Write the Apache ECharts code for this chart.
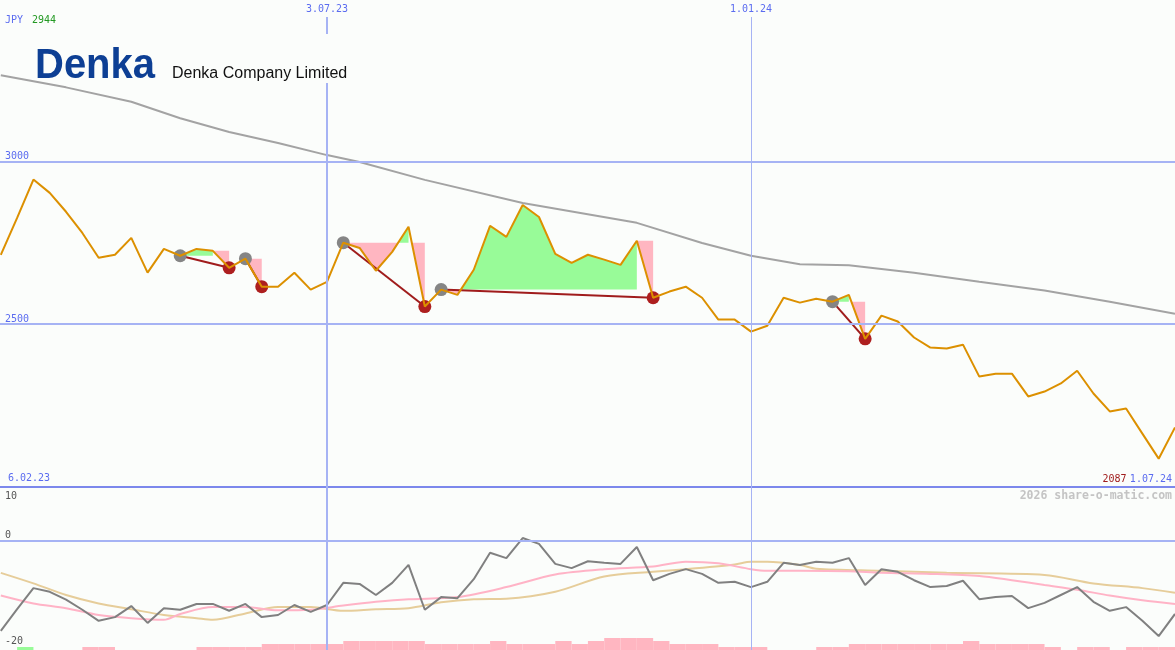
<!DOCTYPE html>
<html>
<head>
<meta charset="utf-8">
<script src="https://cdn.jsdelivr.net/npm/echarts@6/dist/echarts.min.js"></script>
<style>
  html, body { margin: 0; padding: 0; background: #fbfdfb; }
  #chart { width: 1175px; height: 650px; }
</style>
</head>
<body>
<div id="chart"></div>
<script>
// Denka Company Limited, weekly closes in JPY. Week 0 = 6.02.23, week 73 = 1.07.24.
const currency = 'JPY';
const companyShort = 'Denka';
const companyName = 'Denka Company Limited';
const rangeStart = '6.02.23';
const rangeEnd = '1.07.24';
const credit = '2026 share-o-matic.com';

// closes for weeks 1..73
const closePrice = [
  2713, 2826, 2944, 2903, 2845, 2780, 2704, 2713, 2765, 2658,
  2731, 2710, 2731, 2725, 2673, 2701, 2615, 2615, 2658, 2606,
  2630, 2750, 2734, 2664, 2722, 2799, 2554, 2606, 2590, 2667,
  2802, 2768, 2866, 2829, 2716, 2688, 2713, 2698, 2682, 2756,
  2581, 2600, 2615, 2581, 2514, 2514, 2477, 2495, 2581, 2566,
  2578, 2569, 2590, 2455, 2526, 2508, 2459, 2428, 2425, 2437,
  2339, 2348, 2348, 2278, 2293, 2318, 2357, 2287, 2232, 2241,
  2164, 2087, 2183
];

// long moving average [week, JPY]
const trendAvg = [
  [1, 3264], [5, 3227], [9, 3183], [12, 3132], [15, 3090], [18, 3056],
  [21, 3019], [23, 2998], [27, 2943], [33, 2872], [40, 2811], [44, 2749],
  [47, 2710], [50, 2684], [53, 2681], [57, 2658], [61, 2630], [65, 2603],
  [69, 2569], [73, 2532]
];

// sell signals: [start week, end week, drop band top in JPY]
const signals = [
  [12, 15, 2725],
  [16, 17, 2701],
  [22, 27, 2750],
  [28, 41, 2756],
  [52, 54, 2569]
];

// oscillator for weeks 1..73
const momentum = [
  -17.1, -13.0, -9.0, -9.7, -11.2, -13.1, -15.2, -14.5, -12.4, -15.6,
  -12.8, -13.1, -12.0, -12.0, -13.3, -12.0, -14.5, -14.1, -12.2, -13.5,
  -12.2, -8.0, -8.2, -10.3, -8.0, -4.6, -13.1, -10.7, -10.9, -7.3,
  -2.3, -3.3, 0.5, -0.6, -4.4, -5.2, -3.9, -4.2, -4.4, -1.2,
  -7.5, -6.3, -5.4, -6.3, -8.0, -7.8, -8.8, -7.8, -4.2, -4.6,
  -4.0, -4.2, -3.3, -8.4, -5.4, -5.9, -7.5, -8.8, -8.6, -7.6,
  -11.1, -10.7, -10.5, -12.8, -11.8, -10.3, -8.8, -11.6, -13.3, -12.6,
  -15.2, -18.1, -13.9
];

// oscillator averages [week, value]
const momentumFast = [
  [1, -10.4], [3, -11.9], [5, -12.8], [7, -14.1], [9, -14.7], [11, -15.0],
  [12, -13.9], [14, -12.6], [16, -12.6], [18, -13.2], [20, -13.1], [22, -12.3],
  [24, -11.6], [26, -11.1], [29, -10.7], [32, -8.8], [35, -6.4], [38, -5.4],
  [41, -4.9], [43, -4.0], [45, -4.3], [47, -5.4], [48, -5.7], [50, -5.7],
  [53, -5.8], [55, -6.1], [58, -6.3], [61, -6.7], [63, -7.5], [65, -8.4],
  [67, -9.3], [69, -10.4], [71, -11.3], [73, -12.0]
];
const momentumSlow = [
  [1, -6.1], [3, -8.1], [5, -10.3], [7, -11.9], [9, -13.0], [11, -14.1],
  [13, -14.7], [14, -15.0], [16, -13.8], [18, -12.6], [20, -12.6], [22, -13.3],
  [24, -13.0], [26, -12.8], [28, -11.7], [30, -11.1], [32, -11.0], [35, -9.7],
  [38, -6.8], [41, -5.9], [43, -5.4], [46, -4.5], [47, -4.0], [48, -4.0],
  [50, -4.6], [51, -5.3], [55, -5.7], [59, -6.1], [65, -6.5], [68, -8.1],
  [71, -9.0], [73, -9.9]
];

// weekly pressure blocks for weeks 1..73 (negative = buying, positive = selling)
const pressure = [
  0, 0, -1, 0, 0, 0, 1, 1, 0, 0,
  0, 0, 0, 1, 1, 1, 1, 2, 2, 2,
  2, 2, 3, 3, 3, 3, 3, 2, 2, 2,
  2, 3, 2, 2, 2, 3, 2, 3, 4, 4,
  4, 3, 2, 2, 2, 1, 1, 1, 0, 0,
  0, 1, 1, 2, 2, 2, 2, 2, 2, 2,
  3, 2, 2, 2, 2, 1, 0, 1, 1, 0,
  1, 1, 1
];

// axis marks
const priceTicks = [2500, 3000];
const priceFloor = 2000;
const oscTicksLow = [0, -20];
const oscTicksHigh = [10];
const dateTicks = [[21, '3.07.23'], [47, '1.01.24']];

// ---- drawing ----
const BLUE = '#5b6cf0';
const GRID_BLUE = '#a6b3f4';
const MONO = 'DejaVu Sans Mono';
const priceAt = w => closePrice[w - 1];
const hiPrice = Math.max(...closePrice);
const loPrice = Math.min(...closePrice);
const weekMin = 0.95, weekMax = 73;

// path between the close line and a level, keeping the side chosen by pick
function bandPath(from, to, level, pick) {
  const pts = [[from, level]];
  for (let w = from; w <= to; w++) {
    const p = priceAt(w);
    if (w > from) {
      const q = priceAt(w - 1);
      if ((q - level) * (p - level) < 0) {
        pts.push([w - 1 + (q - level) / (q - p), level]);
      }
    }
    pts.push([w, pick(p, level)]);
  }
  pts.push([to, level]);
  return pts;
}

function renderSignalFill(params, api) {
  const [s, e, top] = signals[params.dataIndex];
  const level = priceAt(s);
  const px = pts => pts.map(p => api.coord(p));
  const up = bandPath(s, e - 1, level, Math.max);
  const down = bandPath(s, e - 1, level, Math.min);
  const q = priceAt(e - 1), p = priceAt(e);
  const t = q > top ? (q - top) / (q - p) : 0;
  const drop = [[e - 1 + t, top], [e, top], [e, p]];
  return {
    type: 'group',
    children: [
      { type: 'polygon', shape: { points: px(up) }, style: { fill: '#98fb98' } },
      { type: 'polygon', shape: { points: px(down) }, style: { fill: '#ffb6c1' } },
      { type: 'polygon', shape: { points: px(drop) }, style: { fill: '#ffb6c1' } }
    ]
  };
}

function renderSignalLink(params, api) {
  const [s, e] = signals[params.dataIndex];
  const a = api.coord([s, priceAt(s)]);
  const b = api.coord([e, priceAt(e)]);
  return {
    type: 'group',
    children: [
      { type: 'line', shape: { x1: a[0], y1: a[1], x2: b[0], y2: b[1] },
        style: { stroke: '#a01c1c', lineWidth: 2 } },
      { type: 'circle', shape: { cx: a[0], cy: a[1], r: 6.5 }, style: { fill: '#858585' } },
      { type: 'circle', shape: { cx: b[0], cy: b[1], r: 6.5 }, style: { fill: '#ad1f1f' } }
    ]
  };
}

function renderPressure(params, api) {
  const w = params.dataIndex + 1;
  const v = pressure[params.dataIndex];
  if (!v) return null;
  const a = api.coord([w - 1, 0]);
  const b = api.coord([w, Math.abs(v)]);
  return {
    type: 'rect',
    shape: { x: a[0], y: b[1], width: b[0] - a[0], height: a[1] - b[1] },
    style: { fill: v < 0 ? '#98fb98' : '#ffb6c1' }
  };
}

const hLine = (value, color, width) => ({
  yAxis: value, lineStyle: { color: color, width: width, type: 'solid' }
});
const vLines = dateTicks.map(([w], i) => ({
  xAxis: w, lineStyle: { color: GRID_BLUE, width: i === 0 ? 2 : 1, type: 'solid' }
}));
const markBase = { silent: true, symbol: 'none', label: { show: false }, animation: false };
const plain = v => String(v);

const chart = echarts.init(document.getElementById('chart'), null, { renderer: 'canvas' });

chart.setOption({
  backgroundColor: '#fbfdfb',
  animation: false,
  grid: [
    { left: 0, right: 0, top: 17, height: 470, containLabel: false, outerBoundsMode: 'none' },
    { left: 0, right: 0, top: 487, height: 163, containLabel: false, outerBoundsMode: 'none' }
  ],
  xAxis: [
    {
      gridIndex: 0, type: 'value', min: weekMin, max: weekMax, position: 'top',
      axisLine: { show: false }, axisTick: { show: false }, splitLine: { show: false },
      axisLabel: {
        customValues: dateTicks.map(d => d[0]),
        formatter: v => (dateTicks.find(d => d[0] === v) || [0, ''])[1],
        margin: 3, color: BLUE, fontSize: 10, fontFamily: MONO
      }
    },
    {
      gridIndex: 1, type: 'value', min: weekMin, max: weekMax, show: false
    }
  ],
  yAxis: [
    {
      gridIndex: 0, type: 'value', position: 'left', min: priceFloor, max: 3443,
      axisLine: { show: false }, axisTick: { show: false }, splitLine: { show: false },
      axisLabel: {
        inside: true, customValues: priceTicks, verticalAlign: 'bottom', formatter: plain,
        margin: 5, color: BLUE, fontSize: 10, fontFamily: MONO
      }
    },
    {
      gridIndex: 1, type: 'value', position: 'left', min: -20.74, max: 10.19,
      axisLine: { show: false }, axisTick: { show: false }, splitLine: { show: false },
      axisLabel: {
        inside: true, customValues: oscTicksLow, verticalAlign: 'bottom', formatter: plain,
        margin: 5, color: '#555555', fontSize: 10, fontFamily: MONO
      }
    },
    {
      gridIndex: 1, type: 'value', position: 'left', offset: 0, min: -20.74, max: 10.19,
      axisLine: { show: false }, axisTick: { show: false }, splitLine: { show: false },
      axisLabel: {
        inside: true, customValues: oscTicksHigh, verticalAlign: 'top', formatter: plain,
        margin: 5, padding: [3, 0, 0, 0], color: '#555555', fontSize: 10, fontFamily: MONO
      }
    },
    {
      gridIndex: 1, type: 'value', position: 'left', min: 0, max: 54.33, show: false
    }
  ],
  series: [
    {
      type: 'custom', name: 'signal areas', xAxisIndex: 0, yAxisIndex: 0, z: 1,
      renderItem: renderSignalFill, silent: true,
      data: signals.map(s => [s[0], priceAt(s[0])])
    },
    {
      type: 'line', name: 'trend', xAxisIndex: 0, yAxisIndex: 0, z: 2, clip: false,
      data: trendAvg, showSymbol: false, silent: true,
      lineStyle: { color: '#a3a3a3', width: 2 },
      markLine: Object.assign({}, markBase, {
        data: priceTicks.map(v => hLine(v, GRID_BLUE, 2))
          .concat([hLine(priceFloor, '#7c88ec', 2)])
          .concat(vLines)
      })
    },
    {
      type: 'custom', name: 'signal links', xAxisIndex: 0, yAxisIndex: 0, z: 3,
      renderItem: renderSignalLink, silent: true,
      data: signals.map(s => [s[0], priceAt(s[0])])
    },
    {
      type: 'line', name: 'close', xAxisIndex: 0, yAxisIndex: 0, z: 4,
      data: closePrice.map((v, i) => [i + 1, v]), showSymbol: false, silent: true,
      lineStyle: { color: '#dc9000', width: 2 }
    },
    {
      type: 'custom', name: 'pressure', xAxisIndex: 1, yAxisIndex: 3, z: 1,
      renderItem: renderPressure, silent: true,
      data: pressure.map((v, i) => [i + 1, Math.abs(v)])
    },
    {
      type: 'line', name: 'osc slow', xAxisIndex: 1, yAxisIndex: 1, z: 2,
      data: momentumSlow, showSymbol: false, silent: true, smooth: 0.3,
      lineStyle: { color: '#e6cd9a', width: 2 }
    },
    {
      type: 'line', name: 'osc fast', xAxisIndex: 1, yAxisIndex: 1, z: 2,
      data: momentumFast, showSymbol: false, silent: true, smooth: 0.3,
      lineStyle: { color: '#ffb3c6', width: 2 }
    },
    {
      type: 'line', name: 'osc', xAxisIndex: 1, yAxisIndex: 1, z: 3, clip: false,
      data: momentum.map((v, i) => [i + 1, v]), showSymbol: false, silent: true,
      lineStyle: { color: '#808080', width: 2 },
      markLine: Object.assign({}, markBase, {
        data: [hLine(0, GRID_BLUE, 2)].concat(vLines)
      })
    }
  ],
  graphic: [
    {
      type: 'text', left: 5, top: 15, z: 10,
      style: {
        text: '{c|' + currency + '}{h|' + hiPrice + '}',
        rich: {
          c: { fill: BLUE, font: '10px "DejaVu Sans Mono"' },
          h: { fill: '#229922', font: '10px "DejaVu Sans Mono"', padding: [0, 0, 0, 9] }
        }
      }
    },
    {
      type: 'rect', z: 10, shape: { x: 163, y: 34, width: 186, height: 49 },
      style: { fill: '#fbfdfb' }
    },
    {
      type: 'text', x: 35, y: 45, z: 11, scaleX: 0.93,
      style: { text: companyShort, fill: '#0d3f94', font: 'bold 43px "Liberation Sans"' }
    },
    {
      type: 'text', x: 172, y: 66, z: 11,
      style: { text: companyName, fill: '#111111', font: '16px "Liberation Sans"' }
    },
    {
      type: 'text', x: 8, y: 473, z: 10,
      style: { text: rangeStart, fill: BLUE, font: '10px "DejaVu Sans Mono"' }
    },
    {
      type: 'text', right: 3, top: 473, z: 10,
      style: {
        text: '{l|' + loPrice + '} {d|' + rangeEnd + '}',
        rich: {
          l: { fill: '#a01c1c', font: '10px "DejaVu Sans Mono"' },
          d: { fill: BLUE, font: '10px "DejaVu Sans Mono"' }
        }
      }
    },
    {
      type: 'text', right: 3, top: 490, z: 10,
      style: { text: credit, fill: '#c4c4c4', font: 'bold 11.5px "DejaVu Sans Mono"' }
    }
  ]
});
</script>
</body>
</html>
